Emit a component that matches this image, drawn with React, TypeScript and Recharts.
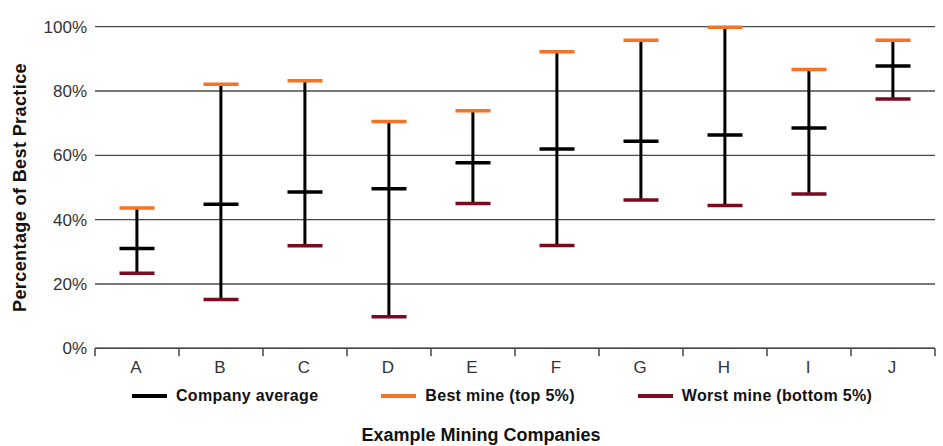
import {
  ComposedChart,
  Bar,
  Scatter,
  XAxis,
  YAxis,
  CartesianGrid,
  Legend,
} from 'recharts';

const companies = ['A', 'B', 'C', 'D', 'E', 'F', 'G', 'H', 'I', 'J'];
const companyAverage = [31, 44.8, 48.6, 49.6, 57.7, 62, 64.4, 66.3, 68.5, 87.8];
const bestMine = [43.6, 82.1, 83.2, 70.5, 73.9, 92.2, 95.8, 99.8, 86.7, 95.8];
const worstMine = [23.3, 15.2, 31.9, 9.8, 45, 32, 46.1, 44.4, 48, 77.5];

const yTicks = [0, 20, 40, 60, 80, 100];
const legendNames = ['Company average', 'Best mine (top 5%)', 'Worst mine (bottom 5%)'];

const BLACK = '#000000';
const ORANGE = '#f47324';
const MAROON = '#7a0a1f';
const legendColors = [BLACK, ORANGE, MAROON];

const FONT = '"Liberation Sans", Arial, Helvetica, sans-serif';

const data = companies.map((name, i) => ({
  name,
  avg: companyAverage[i],
  best: bestMine[i],
  worst: worstMine[i],
  range: [worstMine[i], bestMine[i]],
}));

const capShape = (color: string) => (props: any) => {
  const { cx, cy } = props;
  if (cx == null || cy == null) return null;
  return (
    <line x1={cx - 17.5} x2={cx + 17.5} y1={cy} y2={cy} stroke={color} strokeWidth={3.5} />
  );
};

const Whisker = (props: any) => {
  const { x, y, width, height } = props;
  if (x == null || y == null) return null;
  const top = Math.min(y, y + height);
  return <rect x={x + width / 2 - 1.5} y={top} width={3} height={Math.abs(height)} fill={BLACK} />;
};

// category label plus tick marks on the band edges
const CompanyTick = (props: any) => {
  const { x, y, payload, index, visibleTicksCount } = props;
  const half = payload.offset ?? 0;
  const last = index === (visibleTicksCount ?? companies.length) - 1;
  return (
    <g>
      <line x1={x - half} x2={x - half} y1={y} y2={y + 8} stroke="#444" strokeWidth={1.5} />
      {last && <line x1={x + half} x2={x + half} y1={y} y2={y + 8} stroke="#444" strokeWidth={1.5} />}
      <text x={x - 1} y={y + 25} textAnchor="middle" fill="#333" fontSize={17} fontFamily={FONT}>
        {payload.value}
      </text>
    </g>
  );
};

const LegendContent = () => (
  <div style={{ display: 'flex', alignItems: 'center', fontFamily: FONT }}>
    {legendNames.map((n, i) => (
      <div key={n} style={{ display: 'flex', alignItems: 'center', marginRight: 63 }}>
        <span style={{ display: 'inline-block', width: 35, height: 4, background: legendColors[i], marginRight: 9 }} />
        <span style={{ fontSize: 16, fontWeight: 700, color: '#111', letterSpacing: 0.3, whiteSpace: 'nowrap' }}>{n}</span>
      </div>
    ))}
  </div>
);

const XTitle = (props: any) => {
  const { viewBox } = props;
  const cx = viewBox.x + viewBox.width / 2 - 34;
  return (
    <text x={cx} y={441} textAnchor="middle" fontFamily={FONT} fontSize={18} fontWeight={700} fill="#111">
      Example Mining Companies
    </text>
  );
};

export default function App() {
  return (
    <div style={{ position: 'absolute', left: 0, top: 0, width: 943, height: 446, background: '#fff' }}>
      <ComposedChart
        width={943}
        height={446}
        data={data}
        margin={{ top: 26.7, right: 8, left: 0, bottom: 0 }}
      >
        <XAxis
          dataKey="name"
          type="category"
          axisLine={{ stroke: '#444', strokeWidth: 1.5 }}
          tickLine={false}
          tickSize={0}
          tickMargin={0}
          height={97.7}
          interval={0}
          tick={<CompanyTick />}
          label={<XTitle />}
        />
        <YAxis
          type="number"
          domain={[0, 100]}
          ticks={yTicks}
          tickFormatter={(v) => `${v}%`}
          axisLine={false}
          tickLine={false}
          width={95}
          tick={{ fill: '#333', fontSize: 17, fontFamily: FONT }}
          label={{
            value: 'Percentage of Best Practice',
            angle: -90,
            position: 'insideLeft',
            offset: 20,
            style: { textAnchor: 'middle', fontFamily: FONT, fontSize: 18, fontWeight: 700, fill: '#111', letterSpacing: 0.4 },
          }}
        />
        <CartesianGrid vertical={false} stroke="#4a4a4a" strokeWidth={1.3} />
        <Legend
          layout="horizontal"
          verticalAlign="middle"
          align="center"
          content={<LegendContent />}
          wrapperStyle={{ top: 387, left: 132, width: 811 }}
        />
        <Bar dataKey="range" shape={<Whisker />} isAnimationActive={false} legendType="none" />
        <Scatter dataKey="best" shape={capShape(ORANGE)} isAnimationActive={false} />
        <Scatter dataKey="worst" shape={capShape(MAROON)} isAnimationActive={false} />
        <Scatter dataKey="avg" shape={capShape(BLACK)} isAnimationActive={false} />
      </ComposedChart>
    </div>
  );
}
